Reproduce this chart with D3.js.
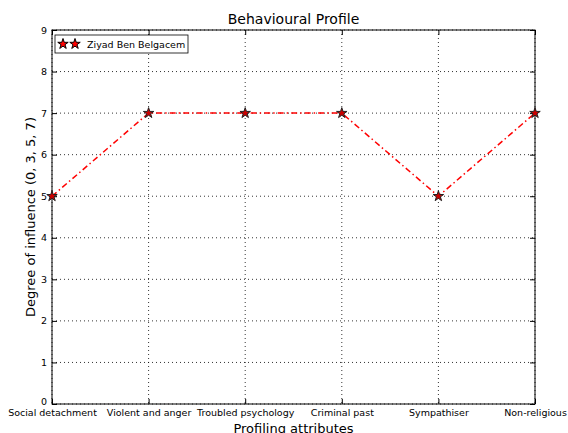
<!DOCTYPE html>
<html><head><meta charset="utf-8">
<script src="https://cdn.jsdelivr.net/npm/d3@7"></script>
<style>body{margin:0;background:#fff;} svg{display:block;font-family:"DejaVu Sans",sans-serif;}</style>
</head><body><svg id="c" width="568" height="433"></svg>
<script>
const categories = ["Social detachment","Violent and anger","Troubled psychology","Criminal past","Sympathiser","Non-religious"];
const values = [5,7,7,7,5,7];
const yTicks = [0,1,2,3,4,5,6,7,8,9];
const seriesName = "Ziyad Ben Belgacem";

const W=568,H=433, L=52,R=535,T=30,B=404;
const svg=d3.select("#c");
const x=d3.scalePoint().domain(categories).range([L,R]);
const y=d3.scaleLinear().domain([0,9]).range([B,T]);

// grid
const g=svg.append("g");
categories.forEach(c=>g.append("line").attr("x1",x(c)).attr("x2",x(c)).attr("y1",T).attr("y2",B).attr("stroke","#000").attr("stroke-width",0.8).attr("stroke-dasharray","1,3"));
yTicks.forEach(v=>g.append("line").attr("x1",L).attr("x2",R).attr("y1",y(v)).attr("y2",y(v)).attr("stroke","#000").attr("stroke-width",0.8).attr("stroke-dasharray","1,3"));

// axes
const ax=svg.append("g").attr("transform",`translate(0,${B})`).call(d3.axisBottom(x).tickSize(-5).tickPadding(5));
const axT=svg.append("g").attr("transform",`translate(0,${T})`).call(d3.axisTop(x).tickSize(-5).tickFormat(""));
const ay=svg.append("g").attr("transform",`translate(${L},0)`).call(d3.axisLeft(y).tickValues(yTicks).tickSize(-5).tickPadding(5));
const ayR=svg.append("g").attr("transform",`translate(${R},0)`).call(d3.axisRight(y).tickValues(yTicks).tickSize(-5).tickFormat(""));
[ax,axT,ay,ayR].forEach(a=>{a.select(".domain").remove();a.selectAll("line").attr("stroke","#000");a.selectAll("text").attr("font-family","DejaVu Sans").attr("font-size",9.5).attr("fill","#000");});
ay.selectAll(".tick").filter(d=>d===0).select("text").attr("dy","0.1em");
svg.append("rect").attr("x",L).attr("y",T).attr("width",R-L).attr("height",B-T).attr("fill","none").attr("stroke","#000").attr("stroke-width",1);

// line
const line=d3.line().x((d,i)=>x(categories[i])).y(d=>y(d));
svg.append("path").datum(values).attr("d",line).attr("fill","none").attr("stroke","#ff0000").attr("stroke-width",1.5).attr("stroke-dasharray","6,3,1.5,3");

const star=d3.symbol().type(d3.symbolStar).size(34);
svg.selectAll(".m").data(values).join("path").attr("transform",(d,i)=>`translate(${x(categories[i])},${y(d)})`).attr("d",star).attr("fill","#cc0000").attr("stroke","#222").attr("stroke-width",1);

// title & labels
svg.append("text").attr("x",(L+R)/2).attr("y",24).attr("text-anchor","middle").attr("font-size",14).text("Behavioural Profile");
svg.append("text").attr("x",(L+R)/2).attr("y",433).attr("text-anchor","middle").attr("font-size",13).text("Profiling attributes");
svg.append("text").attr("transform",`translate(35,${(T+B)/2}) rotate(-90)`).attr("text-anchor","middle").attr("font-size",13).text("Degree of influence (0, 3, 5, 7)");

// legend
const lg=svg.append("g");
lg.append("rect").attr("x",55).attr("y",35).attr("width",133).attr("height",18).attr("fill","#fff").attr("stroke","#000").attr("stroke-width",0.8);
[63,75].forEach(cx=>lg.append("path").attr("transform",`translate(${cx},44)`).attr("d",star).attr("fill","#ff0000").attr("stroke","#000").attr("stroke-width",1));
lg.append("text").attr("x",87).attr("y",48).attr("font-size",9.5).text(seriesName);
</script></body></html>
